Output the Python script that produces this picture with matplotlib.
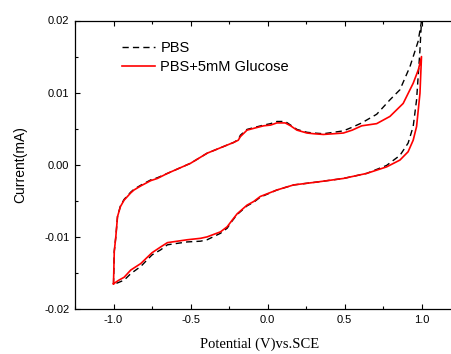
import matplotlib
matplotlib.use("Agg")
import numpy as np
import matplotlib.pyplot as plt
from matplotlib.ticker import MultipleLocator

# forward scan (-1.0 -> 1.0), PBS + 5mM glucose
glu_fwd_v = [-1.0, -0.995, -0.985, -0.974, -0.955, -0.931, -0.888, -0.867, -0.82, -0.758, -0.715,
             -0.65, -0.5, -0.392, -0.30, -0.219, -0.19, -0.176, -0.133, -0.08, -0.025, 0.02,
             0.061, 0.115, 0.15, 0.191, 0.256, 0.30, 0.363, 0.43, 0.493, 0.55, 0.612, 0.709,
             0.795, 0.881, 0.946, 0.98, 1.0]
glu_fwd_i = [-0.0165, -0.0120, -0.0100, -0.0072, -0.0058, -0.0049, -0.0039, -0.0035, -0.0029,
             -0.0022, -0.0019, -0.0012, 0.0002, 0.0016, 0.0024, 0.0031, 0.0034, 0.0039, 0.0048,
             0.0051, 0.0054, 0.0055, 0.0058, 0.0058, 0.0054, 0.0048, 0.0044, 0.0043, 0.0042,
             0.0043, 0.0044, 0.0048, 0.0054, 0.0057, 0.0067, 0.0085, 0.0113, 0.0132, 0.0150]

# reverse scan (1.0 -> -1.0), PBS + 5mM glucose
glu_rev_v = [1.0, 0.995, 0.99, 0.968, 0.946, 0.913, 0.86, 0.773, 0.644, 0.493, 0.32, 0.169,
             0.061, -0.047, -0.09, -0.133, -0.197, -0.23, -0.262, -0.305, -0.392, -0.435,
             -0.521, -0.586, -0.65, -0.694, -0.75, -0.823, -0.888, -0.931, -0.965, -1.0]
glu_rev_i = [0.0150, 0.0125, 0.0099, 0.0053, 0.0034, 0.0018, 0.00065, -0.0003, -0.0012,
             -0.0019, -0.0024, -0.0028, -0.0035, -0.0044, -0.0051, -0.0056, -0.0068, -0.0077,
             -0.0086, -0.0093, -0.0100, -0.0102, -0.0104, -0.0106, -0.0108, -0.0114, -0.0122,
             -0.0137, -0.0146, -0.0156, -0.0160, -0.0165]

# PBS only
pbs_fwd_v = [-1.0, -0.995, -0.985, -0.974, -0.955, -0.931, -0.888, -0.867, -0.82, -0.758, -0.715,
             -0.65, -0.5, -0.392, -0.30, -0.219, -0.19, -0.176, -0.133, -0.08, -0.025, 0.02,
             0.061, 0.115, 0.15, 0.191, 0.256, 0.30, 0.363, 0.43, 0.493, 0.55, 0.612, 0.644,
             0.709, 0.795, 0.86, 0.925, 0.978, 1.0]
pbs_fwd_i = [-0.0166, -0.0120, -0.0100, -0.0072, -0.0057, -0.0048, -0.0038, -0.0034, -0.0028,
             -0.0021, -0.0018, -0.0012, 0.0002, 0.0016, 0.0024, 0.0031, 0.0035, 0.0041, 0.0049,
             0.0052, 0.0055, 0.0057, 0.0060, 0.0060, 0.0055, 0.0049, 0.0045, 0.0044, 0.0043,
             0.0045, 0.0047, 0.0052, 0.0058, 0.0062, 0.0070, 0.0090, 0.0104, 0.0136, 0.0171,
             0.0199]

pbs_rev_v = [1.0, 0.995, 0.99, 0.968, 0.946, 0.913, 0.86, 0.773, 0.644, 0.493, 0.32, 0.169,
             0.061, -0.047, -0.09, -0.133, -0.197, -0.23, -0.262, -0.305, -0.392, -0.435,
             -0.521, -0.586, -0.65, -0.694, -0.75, -0.823, -0.888, -0.931, -0.965, -1.0]
pbs_rev_i = [0.0199, 0.0180, 0.0159, 0.0090, 0.0053, 0.0030, 0.0013, -0.0001, -0.0012,
             -0.0019, -0.0024, -0.0028, -0.0035, -0.0045, -0.0052, -0.0057, -0.0069, -0.0078,
             -0.0088, -0.0095, -0.0104, -0.0106, -0.0107, -0.0109, -0.0111, -0.0118, -0.0125,
             -0.0141, -0.0151, -0.0160, -0.0163, -0.0166]

plt.rcParams['font.family'] = ['Liberation Sans', 'DejaVu Sans']

fig = plt.figure(figsize=(4.51, 3.54), dpi=100)
ax = fig.add_axes([75 / 451, 45 / 354, 385 / 451, 288.5 / 354])

ax.plot(np.r_[pbs_fwd_v, pbs_rev_v], np.r_[pbs_fwd_i, pbs_rev_i],
        color='black', lw=1.0, dashes=(4.5, 3), label='PBS')
ax.plot(np.r_[glu_fwd_v, glu_rev_v], np.r_[glu_fwd_i, glu_rev_i],
        color='#ff0000', lw=1.2, label='PBS+5mM Glucose')

ax.set_xlim(-1.25, 1.25)
ax.set_ylim(-0.02, 0.02)
ax.set_xticks([-1.0, -0.5, 0.0, 0.5, 1.0])
ax.set_yticks([-0.02, -0.01, 0.0, 0.01, 0.02])
ax.set_xticklabels(['-1.0', '-0.5', '0.0', '0.5', '1.0'])
ax.set_yticklabels(['-0.02', '-0.01', '0.00', '0.01', '0.02'])
ax.xaxis.set_minor_locator(MultipleLocator(0.25))
ax.yaxis.set_minor_locator(MultipleLocator(0.005))
ax.tick_params(which='both', direction='in', top=True, right=False, labelsize=8, pad=4)
ax.tick_params(which='major', length=3.5, width=0.8)
ax.tick_params(which='minor', length=2, width=0.8)
for s in ax.spines.values():
    s.set_linewidth(0.9)
ax.spines['right'].set_visible(False)

ax.set_ylabel('Current(mA)', fontsize=10)
ax.yaxis.set_label_coords(-0.125, 0.5)
ax.set_xlabel('Potential (V)vs.SCE', fontsize=10.5, family=['Liberation Serif'])
ax.xaxis.set_label_coords(0.48, -0.1)

leg = ax.legend(loc='upper left', bbox_to_anchor=(0.095, 0.965), frameon=False,
                fontsize=10.5, handlelength=2.3, handletextpad=0.35, labelspacing=0.35,
                borderaxespad=0.3)

fig.savefig('out.png', dpi=100)
